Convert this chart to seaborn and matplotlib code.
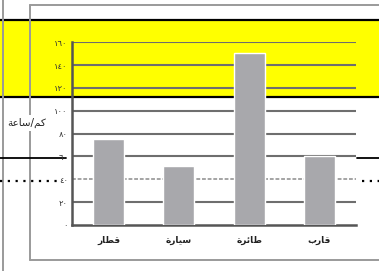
import matplotlib
matplotlib.use("Agg")
import matplotlib.pyplot as plt
from matplotlib.lines import Line2D
from matplotlib.patches import Rectangle
import seaborn as sns
import pandas as pd

# Arabic text is given in presentation forms, in visual (left-to-right) order
categories = ["\uFEAD\uFE8E\uFEC4\uFED7",          # قطار
              "\uFE93\uFEAD\uFE8E\uFEF4\uFEB3",    # سيارة
              "\uFE93\uFEAE\uFE8B\uFE8E\uFEC3",    # طائرة
              "\uFE8F\uFEAD\uFE8E\uFED7"]          # قارب
speeds = [75, 52, 151, 60]
y_ticks = [0, 20, 40, 60, 80, 100, 120, 140, 160]
y_tick_labels = ["\u0660", "\u0662\u0660", "\u0664\u0660", "\u0666\u0660", "\u0668\u0660",
                 "\u0661\u0660\u0660", "\u0661\u0662\u0660", "\u0661\u0664\u0660", "\u0661\u0666\u0660"]
unit_label = "\uFE94\uFECB\uFE8E\uFEB3/\uFEE2\uFEDB"  # كم/ساعة


def px(x, y):
    # pixel position (from top-left) -> figure fraction
    return x / 379, 1 - y / 271


def main():
    sns.set_style("white")
    plt.rcParams['font.family'] = ['DejaVu Sans']

    fig = plt.figure(figsize=(3.79, 2.71), dpi=100)
    fig.patch.set_facecolor('white')

    # yellow band with black borders
    x0, y0 = px(0, 97)
    fig.add_artist(Rectangle((x0, y0), 1, 77 / 271, transform=fig.transFigure,
                             facecolor='#ffff00', edgecolor='none', zorder=0.5))
    for yy in (20, 97):
        fig.add_artist(Line2D([0, 1], [1 - yy / 271] * 2, transform=fig.transFigure,
                              color='black', lw=1.6, zorder=1))

    # gray frame lines
    frame = dict(transform=fig.transFigure, color='#9a9a9a', lw=1.4, zorder=1)
    fig.add_artist(Line2D([30 / 379, 1], [1 - 5 / 271] * 2, **frame))
    fig.add_artist(Line2D([30 / 379, 1], [1 - 260 / 271] * 2, **frame))
    fig.add_artist(Line2D([30 / 379] * 2, [1 - 5 / 271, 1 - 260 / 271], **frame))
    fig.add_artist(Line2D([2.5 / 379] * 2, [0, 1], **frame))

    # black solid / dotted side lines
    for xs in ([0, 66], [357, 379]):
        fig.add_artist(Line2D([xs[0] / 379, xs[1] / 379], [1 - 158 / 271] * 2,
                              transform=fig.transFigure, color='black', lw=1.3, zorder=1))
    for xs in ([0, 58], [362, 379]):
        fig.add_artist(Line2D([xs[0] / 379, xs[1] / 379], [1 - 180.5 / 271] * 2,
                              transform=fig.transFigure, color='black', lw=1.6,
                              linestyle=(0, (1, 2.5)), zorder=1))

    ax = fig.add_axes([72 / 379, 46 / 271, 284 / 379, 182.7 / 271])
    ax.set_facecolor('none')
    ax.set_zorder(2)

    df = pd.DataFrame({'mode': categories, 'speed': speeds})
    sns.barplot(data=df, x='mode', y='speed', color='#a8a8ac', width=0.44,
                saturation=1, ax=ax, zorder=3)

    for t in y_ticks[1:]:
        if t == 40:
            ax.axhline(t, color='#8c8c8c', lw=1.1, linestyle=(0, (2.5, 1.2)), zorder=1)
        else:
            ax.axhline(t, color='#6e6e6e', lw=1.5, zorder=1)

    ax.set_ylim(0, 160)
    ax.set_xlim(-0.518, 3.518)
    ax.set_yticks(y_ticks)
    ax.set_yticklabels(y_tick_labels, fontsize=6, color='#333333')
    ax.set_xticks(range(len(categories)))
    ax.set_xticklabels(categories, fontsize=6.5, fontweight='bold', color='#222222')
    ax.tick_params(axis='y', length=0, pad=3)
    ax.tick_params(axis='x', length=0, pad=8)
    ax.set_xlabel('')
    ax.set_ylabel('')

    for side in ('top', 'right'):
        ax.spines[side].set_visible(False)
    for side in ('left', 'bottom'):
        ax.spines[side].set_color('#555555')
        ax.spines[side].set_linewidth(1.8)

    # unit label over the frame line
    fig.text(*px(27, 123), unit_label, fontsize=7.5, color='#222222', ha='center',
             va='center', zorder=3,
             bbox=dict(facecolor='white', edgecolor='none', pad=2))

    fig.savefig('out.png', dpi=100)


if __name__ == "__main__":
    main()
